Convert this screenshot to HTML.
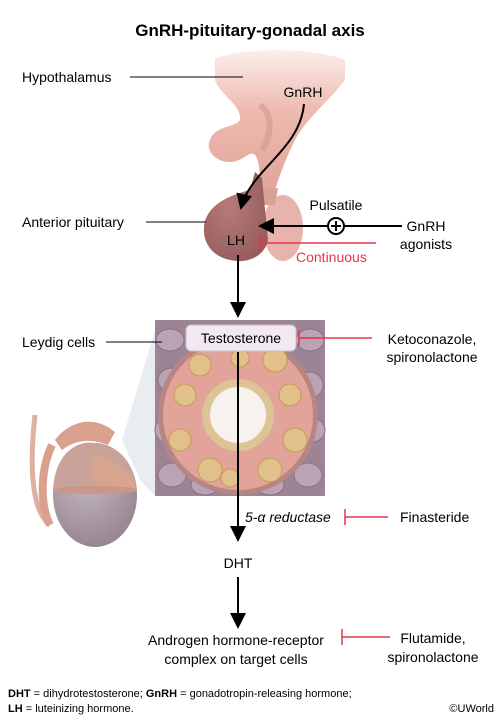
<!DOCTYPE html>
<html><head><meta charset="utf-8"><style>
body{margin:0;background:#fff;}
svg{display:block;font-family:"Liberation Sans",Arial,sans-serif;}
</style></head><body>
<svg width="500" height="719" viewBox="0 0 500 719">
<defs>
<marker id="ah" markerWidth="8" markerHeight="8" refX="7" refY="4" orient="auto"><path d="M0,0 L8,4 L0,8 z" fill="#000"/></marker>
<radialGradient id="pit" cx="0.4" cy="0.4" r="0.7"><stop offset="0" stop-color="#b57a78"/><stop offset="1" stop-color="#955b5c"/></radialGradient>
<linearGradient id="hyp" x1="0" y1="0" x2="0" y2="1"><stop offset="0" stop-color="#fbeeea"/><stop offset="0.4" stop-color="#eebcb2"/><stop offset="1" stop-color="#e0a398"/></linearGradient>
<radialGradient id="tes" cx="0.4" cy="0.3" r="0.8"><stop offset="0" stop-color="#c9bcc4"/><stop offset="1" stop-color="#8f7f8a"/></radialGradient>
</defs>
<text x="250" y="36" text-anchor="middle" font-size="17" font-weight="bold">GnRH-pituitary-gonadal axis</text>

<g>
<path d="M215,58 C260,45 320,50 345,60 L345,80 C330,100 305,120 295,140 C285,160 280,175 275,190 L262,195 C258,180 262,165 255,155 C250,150 245,160 232,162 C215,163 205,150 210,140 C215,125 235,128 240,120 C242,105 220,95 215,80 Z" fill="url(#hyp)"/>
<path d="M260,105 C275,115 270,140 262,150" fill="none" stroke="#d0928a" stroke-width="6" opacity="0.5"/>
<ellipse cx="283" cy="228" rx="20" ry="33" fill="#e8b3aa"/>
<path d="M262,190 L278,188 L275,205 L262,205 Z" fill="#d8a097"/>
</g>
<g>
<path d="M255,172 L262,178 L268,240 C265,255 250,262 238,261 C215,260 203,245 204,228 C205,205 230,195 250,190 Z" fill="url(#pit)"/>
</g>
<text x="22" y="82" font-size="14">Hypothalamus</text>
<line x1="130" y1="77" x2="243" y2="77" stroke="#000"/>
<text x="303" y="97" text-anchor="middle" font-size="14">GnRH</text>
<path d="M304,104 C300,150 250,170 241,208" fill="none" stroke="#000" stroke-width="2" marker-end="url(#ah)"/>
<text x="22" y="227" font-size="14">Anterior pituitary</text>
<line x1="146" y1="222" x2="206" y2="222" stroke="#000"/>
<text x="236" y="245" text-anchor="middle" font-size="14">LH</text>
<text x="336" y="210" text-anchor="middle" font-size="14">Pulsatile</text>
<line x1="402" y1="226" x2="260" y2="226" stroke="#000" stroke-width="2" marker-end="url(#ah)"/>
<circle cx="336" cy="226" r="8" fill="#fff" stroke="#000" stroke-width="2"/>
<path d="M331,226h10M336,221v10" stroke="#000" stroke-width="2"/>
<text x="426" y="231" text-anchor="middle" font-size="14">GnRH</text>
<text x="426" y="249" text-anchor="middle" font-size="14">agonists</text>
<g stroke="#e8334f" stroke-width="1.5">
<line x1="376" y1="243" x2="260" y2="243"/><line x1="260" y1="235" x2="260" y2="251"/></g>
<text x="296" y="262" font-size="14" fill="#e8334f">Continuous</text>
<line x1="238" y1="255" x2="238" y2="316" stroke="#000" stroke-width="2" marker-end="url(#ah)"/>

<g>
<polygon points="155,330 122,440 140,480 155,496" fill="#e3e8ec" opacity="0.8"/>
<rect x="155" y="320" width="170" height="176" fill="#9c8494"/>
<g fill="#b9a3b4" stroke="#8a7084" stroke-width="1">
<ellipse cx="170" cy="340" rx="14" ry="11"/><ellipse cx="172" cy="380" rx="14" ry="12"/><ellipse cx="168" cy="430" rx="13" ry="13"/><ellipse cx="172" cy="475" rx="14" ry="12"/>
<ellipse cx="310" cy="340" rx="14" ry="11"/><ellipse cx="310" cy="385" rx="13" ry="13"/><ellipse cx="312" cy="430" rx="13" ry="12"/><ellipse cx="308" cy="475" rx="14" ry="12"/>
<ellipse cx="205" cy="485" rx="14" ry="10"/><ellipse cx="270" cy="485" rx="14" ry="10"/></g>
<circle cx="238" cy="415" r="80" fill="#b88682"/>
<circle cx="238" cy="415" r="75" fill="#e2a49a"/>
<g fill="#e2c08a" stroke="#c39a5a">
<circle cx="200" cy="365" r="11"/><circle cx="275" cy="360" r="12"/><circle cx="290" cy="395" r="11"/><circle cx="295" cy="440" r="12"/><circle cx="270" cy="470" r="12"/><circle cx="210" cy="470" r="12"/><circle cx="180" cy="440" r="11"/><circle cx="185" cy="395" r="11"/><circle cx="240" cy="358" r="9"/><circle cx="230" cy="478" r="9"/></g>
<circle cx="238" cy="415" r="32" fill="#f7f2ee" stroke="#dcc497" stroke-width="8"/>
<rect x="186" y="325" width="110" height="26" rx="5" fill="#f2e8ef" stroke="#cdbfca"/>
</g>
<text x="241" y="343" text-anchor="middle" font-size="14">Testosterone</text>
<text x="22" y="347" font-size="14">Leydig cells</text>
<line x1="106" y1="342" x2="162" y2="342" stroke="#000"/>
<g stroke="#e8334f" stroke-width="1.5">
<line x1="372" y1="338" x2="299" y2="338"/><line x1="299" y1="330" x2="299" y2="346"/></g>
<text x="432" y="344" text-anchor="middle" font-size="14">Ketoconazole,</text>
<text x="432" y="362" text-anchor="middle" font-size="14">spironolactone</text>

<g>
<path d="M35,415 C30,460 30,510 50,525" fill="none" stroke="#ddb0a2" stroke-width="5"/>
<path d="M52,445 C40,470 40,505 50,525" fill="none" stroke="#d9a08e" stroke-width="8"/>
<path d="M55,440 C70,420 95,415 115,432 L108,445 C90,438 75,440 62,450 Z" fill="#d9a08e"/>
<ellipse cx="95" cy="495" rx="42" ry="52" fill="url(#tes)"/>
<path d="M53,490 C55,455 75,440 95,443 C120,445 135,465 137,490 Z" fill="#c9a29a"/>
<path d="M90,455 C110,455 130,470 136,488 L95,488 Z" fill="#d6a48f"/>
<ellipse cx="95" cy="490" rx="42" ry="4" fill="#c8978a"/>
</g>
<line x1="238" y1="352" x2="238" y2="540" stroke="#000" stroke-width="2" marker-end="url(#ah)"/>
<text x="245" y="522" font-size="14" font-style="italic">5-α reductase</text>
<g stroke="#e8334f" stroke-width="1.5">
<line x1="388" y1="517" x2="345" y2="517"/><line x1="345" y1="509" x2="345" y2="525"/></g>
<text x="400" y="522" font-size="14">Finasteride</text>
<text x="238" y="568" text-anchor="middle" font-size="14">DHT</text>
<line x1="238" y1="577" x2="238" y2="627" stroke="#000" stroke-width="2" marker-end="url(#ah)"/>
<text x="236" y="645" text-anchor="middle" font-size="14">Androgen hormone-receptor</text>
<text x="236" y="664" text-anchor="middle" font-size="14">complex on target cells</text>
<g stroke="#e8334f" stroke-width="1.5">
<line x1="390" y1="637" x2="342" y2="637"/><line x1="342" y1="629" x2="342" y2="645"/></g>
<text x="433" y="643" text-anchor="middle" font-size="14">Flutamide,</text>
<text x="433" y="662" text-anchor="middle" font-size="14">spironolactone</text>
<text x="8" y="697" font-size="11"><tspan font-weight="bold">DHT</tspan> = dihydrotestosterone; <tspan font-weight="bold">GnRH</tspan> = gonadotropin-releasing hormone;</text>
<text x="8" y="712" font-size="11"><tspan font-weight="bold">LH</tspan> = luteinizing hormone.</text>
<text x="494" y="712" text-anchor="end" font-size="11">©UWorld</text>
</svg>
</body></html>
